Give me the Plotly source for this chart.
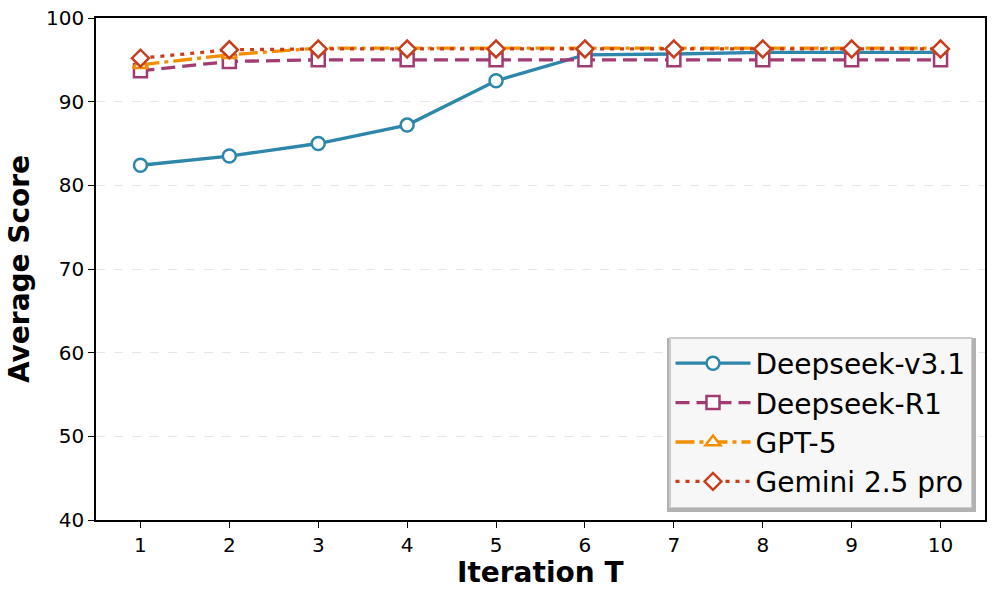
import plotly.graph_objects as go

iterations = [1, 2, 3, 4, 5, 6, 7, 8, 9, 10]
deepseek_v31 = [82.4, 83.5, 85.0, 87.2, 92.5, 95.6, 95.7, 95.9, 95.9, 95.9]
deepseek_r1 = [93.7, 94.8, 95.0, 95.0, 95.0, 95.0, 95.0, 95.0, 95.0, 95.0]
gpt5 = [94.4, 95.6, 96.4, 96.4, 96.4, 96.4, 96.4, 96.4, 96.4, 96.4]
gemini = [95.2, 96.2, 96.3, 96.3, 96.3, 96.3, 96.3, 96.3, 96.3, 96.3]
y_ticks = [40, 50, 60, 70, 80, 90, 100]

series = [
    ("Deepseek-v3.1", deepseek_v31, "#2E86AB", "solid", "circle"),
    ("Deepseek-R1", deepseek_r1, "#A23B72", "14px,7px", "square"),
    ("GPT-5", gpt5, "#F18F01", "19px,5px,4px,5px", "triangle-up"),
    ("Gemini 2.5 pro", gemini, "#C73E1D", "4px,6px", "diamond"),
]

fig = go.Figure()
for name, vals, color, dash, sym in series:
    fig.add_trace(go.Scatter(
        x=iterations, y=vals, name=name, mode="lines+markers",
        line=dict(color=color, width=3.3, dash=dash),
        marker=dict(symbol=sym, size=13, color="white", line=dict(width=2.5, color=color)),
    ))

W, H = 996, 595
L, R, T, B = 96, 11, 18, 75
pw, ph = W - L - R, H - T - B

def px_x(x):
    return (x - L) / pw

def px_y(y):
    return 1 - (y - T) / ph

# legend shadow
fig.add_shape(type="rect", xref="paper", yref="paper",
              x0=px_x(667), x1=px_x(976), y0=px_y(512), y1=px_y(338),
              fillcolor="rgba(0,0,0,0.3)", line=dict(width=0), layer="above")

fig.add_annotation(text="<b>Iteration T</b>", xref="paper", yref="paper",
                   x=0.5, y=px_y(572), xanchor="center", yanchor="middle",
                   showarrow=False, borderpad=0,
                   font=dict(size=28, family="DejaVu Sans", color="black"))

fig.update_layout(
    width=W, height=H,
    margin=dict(l=L, r=R, t=T, b=B, autoexpand=False),
    paper_bgcolor="white", plot_bgcolor="white",
    font=dict(family="DejaVu Sans", color="black"),
    showlegend=True,
    legend=dict(
        x=1 - 13 / pw, y=12 / ph, xanchor="right", yanchor="bottom",
        bgcolor="#f7f7f7", bordercolor="#cccccc", borderwidth=1.5,
        font=dict(size=28, family="DejaVu Sans", color="black"),
        itemwidth=75, tracegroupgap=0,
    ),
    xaxis=dict(
        range=[0.5, 10.5], tickvals=iterations, ticks="outside", ticklen=6,
        tickcolor="black", tickfont=dict(size=20), showgrid=False, automargin=False,
        showline=True, linecolor="black", linewidth=1.5, mirror=True, zeroline=False,
    ),
    yaxis=dict(
        range=[40, 100], tickvals=y_ticks, ticks="outside", ticklen=6,
        tickcolor="black", tickfont=dict(size=20), showgrid=True, automargin=False,
        gridcolor="#e6e6e6", griddash="dash", gridwidth=1,
        showline=True, linecolor="black", linewidth=1.5, mirror=True, zeroline=False,
        title=dict(text="<b>Average Score</b>", font=dict(size=28), standoff=8),
    ),
)

fig.write_html("out.html", config={"displayModeBar": False},
               post_script="document.body.style.margin='0';")
